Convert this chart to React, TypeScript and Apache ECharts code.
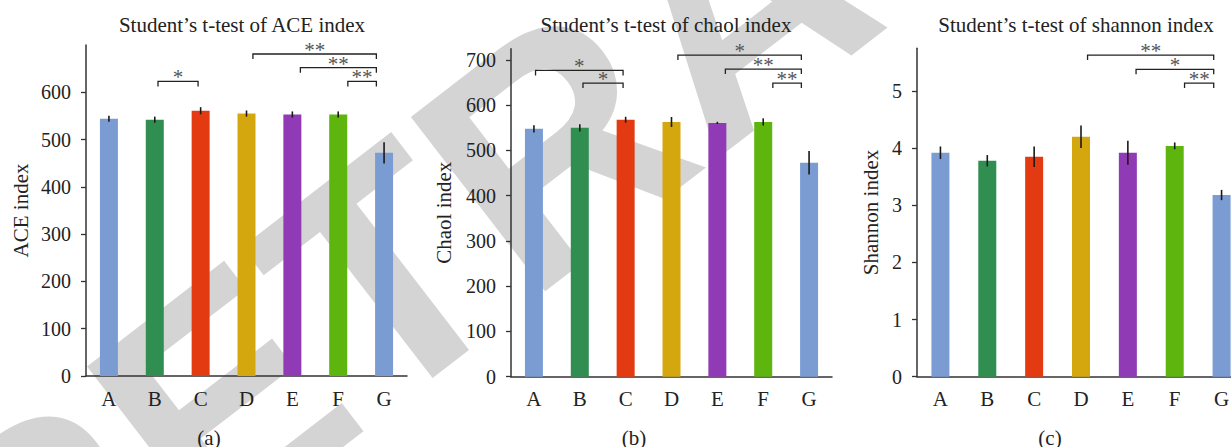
import React, { useEffect, useRef } from 'react';
import * as echarts from 'echarts';

const categories = ['A', 'B', 'C', 'D', 'E', 'F', 'G'];
const barColors = ['#7b9cd3', '#2f8e50', '#e33a11', '#d5a70f', '#903bb5', '#5db50e', '#7b9cd3'];

const aceValues = [544, 542, 561, 555, 553, 553, 472];
const aceErrors = [6.5, 6.5, 7.5, 6.5, 6.5, 6.5, 22.5];
const aceTicks = [0, 100, 200, 300, 400, 500, 600];
const aceBrackets = [[1, 2, 623], [3, 6, 681], [4, 6, 652], [5, 6, 623]];
const aceStars = ['*', '**', '**', '**'];

const chaoValues = [548, 550, 568, 563, 561, 563, 473];
const chaoErrors = [8, 8, 6.5, 11, 2.5, 8, 26];
const chaoTicks = [0, 100, 200, 300, 400, 500, 600, 700];
const chaoBrackets = [[0, 2, 677], [1, 2, 649], [3, 6, 711], [4, 6, 680], [5, 6, 649]];
const chaoStars = ['*', '*', '*', '**', '**'];

const shannonValues = [3.92, 3.78, 3.85, 4.2, 3.92, 4.04, 3.18];
const shannonErrors = [0.11, 0.1, 0.18, 0.195, 0.21, 0.06, 0.09];
const shannonTicks = [0, 1, 2, 3, 4, 5];
const shannonBrackets = [[3, 6, 5.63], [4, 6, 5.38], [5, 6, 5.14]];
const shannonStars = ['**', '*', '**'];

const titles = ['Student\u2019s t-test of ACE index', 'Student\u2019s t-test of chaol index', 'Student\u2019s t-test of shannon index'];
const axisNames = ['ACE index', 'Chaol index', 'Shannon index'];
const captions = ['(a)', '(b)', '(c)'];
const watermarkText = 'RETRACTED';

const SERIF = '"Liberation Serif", "DejaVu Serif", serif';

const panels = [
  { values: aceValues, errors: aceErrors, ticks: aceTicks, brackets: aceBrackets, stars: aceStars, max: 700,
    grid: { left: 86, top: 45, width: 321, height: 331 }, nameGap: 55, titleX: 242, captionX: 209 },
  { values: chaoValues, errors: chaoErrors, ticks: chaoTicks, brackets: chaoBrackets, stars: chaoStars, max: 725,
    grid: { left: 511, top: 48.7, width: 321, height: 328 }, nameGap: 57, titleX: 666, captionX: 634 },
  { values: shannonValues, errors: shannonErrors, ticks: shannonTicks, brackets: shannonBrackets, stars: shannonStars, max: 5.75,
    grid: { left: 917, top: 48.2, width: 328, height: 328.5 }, nameGap: 36, titleX: 1076, captionX: 1050 },
];

function buildOption() {
  const grids: any[] = [];
  const xAxes: any[] = [];
  const yAxes: any[] = [];
  const series: any[] = [];
  const graphics: any[] = [];

  graphics.push({
    type: 'text',
    x: 735,
    y: 5,
    rotation: 0.656,
    z: -10,
    style: {
      text: watermarkText,
      font: 'bold 320px "Liberation Sans", Arial, sans-serif',
      fill: '#d4d4d4',
      align: 'center',
      verticalAlign: 'middle',
    },
  });

  panels.forEach((p, i) => {
    grids.push({ ...p.grid, containLabel: false, outerBoundsMode: 'none' });
    xAxes.push({
      type: 'category',
      gridIndex: i,
      data: categories,
      axisLine: { lineStyle: { color: '#333', width: 1.5 } },
      axisTick: { alignWithLabel: true, length: 5, lineStyle: { color: '#333', width: 1.3 } },
      axisLabel: { color: '#222', fontSize: 21, fontFamily: SERIF, margin: 12, hideOverlap: false },
      splitLine: { show: false },
    });
    yAxes.push({
      type: 'value',
      gridIndex: i,
      min: 0,
      max: p.max,
      name: axisNames[i],
      nameLocation: 'middle',
      nameGap: p.nameGap,
      nameTextStyle: { color: '#222', fontSize: 21, fontFamily: SERIF },
      axisLine: { show: true, lineStyle: { color: '#333', width: 1.5 } },
      axisTick: { show: true, length: 5, customValues: p.ticks, lineStyle: { color: '#333', width: 1.3 } },
      axisLabel: { color: '#222', fontSize: 20, fontFamily: SERIF, margin: 15, customValues: p.ticks },
      splitLine: { show: false },
    });
    series.push({
      type: 'bar',
      xAxisIndex: i,
      yAxisIndex: i,
      barWidth: 18,
      data: p.values.map((v, k) => ({ value: v, itemStyle: { color: barColors[k] } })),
    });
    series.push({
      type: 'custom',
      xAxisIndex: i,
      yAxisIndex: i,
      z: 5,
      encode: { x: 0, y: 1 },
      data: p.values.map((v, k) => [k, v, p.errors[k]]),
      renderItem: (params: any, api: any) => {
        const x = api.value(0);
        const v = api.value(1);
        const e = api.value(2);
        const a = api.coord([x, v - e]);
        const b = api.coord([x, v + e]);
        return {
          type: 'line',
          shape: { x1: a[0], y1: a[1], x2: b[0], y2: b[1] },
          style: { stroke: '#1a1a1a', lineWidth: 1.6 },
        };
      },
    });
    const stars = p.stars;
    series.push({
      type: 'custom',
      xAxisIndex: i,
      yAxisIndex: i,
      z: 6,
      encode: { x: [0, 1], y: 2 },
      data: p.brackets,
      renderItem: (params: any, api: any) => {
        const s = api.value(0);
        const e = api.value(1);
        const y = api.value(2);
        const band = api.size([1, 0])[0];
        const p1 = api.coord([s, y]);
        const p2 = api.coord([e, y]);
        const x1 = p1[0] + band * 0.035 * (s + 1);
        const x2 = p2[0] - band * 0.028 * e;
        const yy = p1[1];
        return {
          type: 'group',
          children: [
            {
              type: 'polyline',
              shape: { points: [[x1, yy + 5], [x1, yy], [x2, yy], [x2, yy + 5]] },
              style: { stroke: '#222', lineWidth: 1.3, fill: 'none' },
            },
            {
              type: 'text',
              x: (x1 + x2) / 2,
              y: yy - 4,
              style: { text: stars[params.dataIndex], fill: '#555', font: '21px ' + SERIF, align: 'center', verticalAlign: 'middle' },
            },
          ],
        };
      },
    });
    graphics.push({
      type: 'text',
      x: p.titleX,
      y: 25,
      style: { text: titles[i], fill: '#222', font: '21px ' + SERIF, align: 'center', verticalAlign: 'middle' },
    });
    graphics.push({
      type: 'text',
      x: p.captionX,
      y: 438,
      style: { text: captions[i], fill: '#222', font: '21px ' + SERIF, align: 'center', verticalAlign: 'middle' },
    });
  });

  return {
    animation: false,
    backgroundColor: '#fff',
    grid: grids,
    xAxis: xAxes,
    yAxis: yAxes,
    series,
    graphic: graphics,
  };
}

export default function App() {
  const ref = useRef<HTMLDivElement>(null);
  useEffect(() => {
    document.body.style.margin = '0';
    const chart = echarts.init(ref.current as HTMLDivElement, null, { renderer: 'svg' });
    chart.setOption(buildOption() as any);
    return () => chart.dispose();
  }, []);
  return (
    <div
      ref={ref}
      style={{ position: 'fixed', left: 0, top: 0, width: 1231, height: 447, background: '#fff' }}
    />
  );
}
